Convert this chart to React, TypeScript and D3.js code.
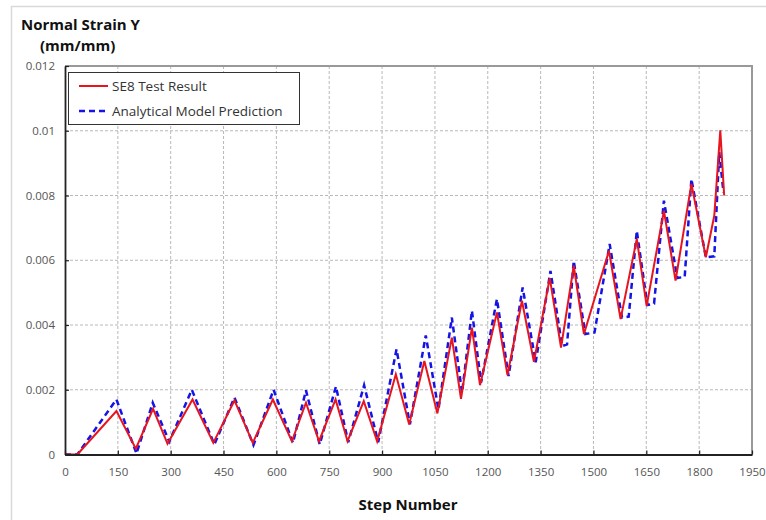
import React from "react";
import * as d3 from "d3";

const xTicks = [0, 150, 300, 450, 600, 750, 900, 1050, 1200, 1350, 1500, 1650, 1800, 1950];
const yTicks = [0, 0.002, 0.004, 0.006, 0.008, 0.01, 0.012];
const yTickLabels = ["0", "0.002", "0.004", "0.006", "0.008", "0.01", "0.012"];

const testSteps = [0, 35, 146, 201, 250, 291, 362, 421, 481, 533, 590, 644, 684, 721, 768, 802, 848, 886, 939, 977, 1020, 1057, 1098, 1124, 1155, 1178, 1226, 1256, 1297, 1331, 1376, 1408, 1444, 1473, 1544, 1577, 1623, 1651, 1700, 1733, 1778, 1819, 1843, 1860, 1871];
const testStrain = [0, 0, 0.00134, 0.00018, 0.00141, 0.00033, 0.0017, 0.00036, 0.00167, 0.00036, 0.0017, 0.00041, 0.0016, 0.00041, 0.0017, 0.00041, 0.00165, 0.00041, 0.00248, 0.00093, 0.00289, 0.00127, 0.00361, 0.00172, 0.00392, 0.00214, 0.00439, 0.00245, 0.00475, 0.00286, 0.00545, 0.0033, 0.00583, 0.00372, 0.00629, 0.00418, 0.00666, 0.00459, 0.00753, 0.00537, 0.00836, 0.00609, 0.00738, 0.01001, 0.008];

const modelSteps = [0, 35, 146, 203, 249, 296, 360, 424, 481, 535, 592, 647, 684, 723, 769, 804, 849, 889, 941, 979, 1024, 1060, 1098, 1127, 1155, 1181, 1226, 1259, 1299, 1336, 1378, 1411, 1425, 1444, 1477, 1503, 1546, 1581, 1600, 1623, 1653, 1672, 1700, 1738, 1759, 1778, 1819, 1843, 1857, 1869];
const modelStrain = [0, 0, 0.0017, 0.00003, 0.0016, 0.0004, 0.002, 0.00031, 0.00176, 0.00029, 0.002, 0.00036, 0.00198, 0.00031, 0.0021, 0.00038, 0.00214, 0.00038, 0.00325, 0.00093, 0.00368, 0.00139, 0.00423, 0.00191, 0.00444, 0.00222, 0.0048, 0.00242, 0.00516, 0.00285, 0.00567, 0.00335, 0.0034, 0.00598, 0.00372, 0.00377, 0.0065, 0.00423, 0.00426, 0.00691, 0.00462, 0.00466, 0.00784, 0.00545, 0.00549, 0.00851, 0.00609, 0.00612, 0.00934, 0.0081];

const font = "'Open Sans', 'Noto Sans', sans-serif";

const App = () => {
  const ref = React.useRef<SVGSVGElement>(null);
  const width = 766, height = 520;
  const plot = { left: 65, right: 752, top: 66, bottom: 454.5 };

  React.useEffect(() => {
    const svg = d3.select(ref.current);
    svg.selectAll("*").remove();

    const x = d3.scaleLinear([0, 1950], [plot.left, plot.right]);
    const y = d3.scaleLinear([0, 0.012], [plot.bottom, plot.top]);

    svg.append("rect").attr("width", width).attr("height", height).attr("fill", "#fff");
    // outer frame
    svg.append("rect")
      .attr("x", 11.5).attr("y", 6.5).attr("width", 770).attr("height", 530)
      .attr("fill", "none").attr("stroke", "#d9d9d9").attr("stroke-width", 1.5);

    // gridlines
    svg.append("g").selectAll("line").data(xTicks.slice(1, -1)).join("line")
      .attr("x1", d => x(d)).attr("x2", d => x(d))
      .attr("y1", plot.top).attr("y2", plot.bottom)
      .attr("stroke", "#a6a6a6").attr("stroke-width", 0.8).attr("stroke-dasharray", "3,2");
    svg.append("g").selectAll("line").data(yTicks.slice(1, -1)).join("line")
      .attr("x1", plot.left).attr("x2", plot.right)
      .attr("y1", d => y(d)).attr("y2", d => y(d))
      .attr("stroke", "#a6a6a6").attr("stroke-width", 0.8).attr("stroke-dasharray", "3,2");

    // top and right border
    svg.append("path")
      .attr("d", `M${plot.left},${plot.top}H${plot.right}V${plot.bottom}`)
      .attr("fill", "none").attr("stroke", "#999").attr("stroke-width", 2);

    const line = d3.line<[number, number]>().x(d => x(d[0])).y(d => y(d[1]));
    const testData = testSteps.map((s, i) => [s, testStrain[i]] as [number, number]);
    const modelData = modelSteps.map((s, i) => [s, modelStrain[i]] as [number, number]);

    svg.append("path").datum(modelData).attr("d", line)
      .attr("fill", "none").attr("stroke", "#1414e6").attr("stroke-width", 2.5)
      .attr("stroke-dasharray", "6,4");
    svg.append("path").datum(testData).attr("d", line)
      .attr("fill", "none").attr("stroke", "#e8141e").attr("stroke-width", 2)
      .attr("stroke-linejoin", "miter");

    // axes
    const xAxis = svg.append("g").attr("transform", `translate(0,${plot.bottom})`)
      .call(d3.axisBottom(x).tickValues(xTicks).tickSizeInner(-4).tickSizeOuter(0).tickFormat(d3.format("d")));
    xAxis.select(".domain").attr("stroke", "#222").attr("stroke-width", 1.8);
    xAxis.selectAll(".tick line").attr("stroke", "#222").attr("stroke-width", 1.2);
    xAxis.selectAll(".tick text").attr("y", 18).attr("dy", "0.32em").attr("fill", "#555")
      .attr("font-family", font).attr("font-size", 11.5);

    const yAxis = svg.append("g").attr("transform", `translate(${plot.left},0)`)
      .call(d3.axisLeft(y).tickValues(yTicks).tickSizeInner(-4).tickSizeOuter(0)
        .tickFormat((d, i) => yTickLabels[i]));
    yAxis.select(".domain").attr("stroke", "#222").attr("stroke-width", 1.8);
    yAxis.selectAll(".tick line").attr("stroke", "#222").attr("stroke-width", 1.2);
    yAxis.selectAll(".tick text").attr("x", -10).attr("fill", "#555")
      .attr("font-family", font).attr("font-size", 11.5);

    // titles
    svg.append("text").attr("x", 21).attr("y", 30).text("Normal Strain Y")
      .attr("font-family", font).attr("font-weight", "bold").attr("font-size", 15).attr("fill", "#111");
    svg.append("text").attr("x", 40).attr("y", 51).text("(mm/mm)")
      .attr("font-family", font).attr("font-weight", "bold").attr("font-size", 15).attr("fill", "#111");
    svg.append("text").attr("x", 408).attr("y", 510).attr("text-anchor", "middle").text("Step Number")
      .attr("font-family", font).attr("font-weight", "bold").attr("font-size", 15).attr("fill", "#111");

    // legend
    const legend = svg.append("g");
    legend.append("rect").attr("x", 68.5).attr("y", 72.5).attr("width", 231).attr("height", 52)
      .attr("fill", "#fff").attr("stroke", "#333").attr("stroke-width", 1);
    const items = [
      { label: "SE8 Test Result", color: "#e8141e", dash: null, w: 2 },
      { label: "Analytical Model Prediction", color: "#1414e6", dash: "6,4", w: 2.5 },
    ];
    items.forEach((it, i) => {
      const ly = 86 + i * 25;
      legend.append("line").attr("x1", 79).attr("x2", 108).attr("y1", ly).attr("y2", ly)
        .attr("stroke", it.color).attr("stroke-width", it.w).attr("stroke-dasharray", it.dash);
      legend.append("text").attr("x", 112).attr("y", ly).attr("dy", "0.35em").text(it.label)
        .attr("font-family", font).attr("font-size", 13.5).attr("fill", "#333");
    });
  }, []);

  return (
    <div style={{ position: "absolute", left: 0, top: 0 }}>
      <svg width={width} height={height} ref={ref} style={{ display: "block" }} />
    </div>
  );
};

export default App;
